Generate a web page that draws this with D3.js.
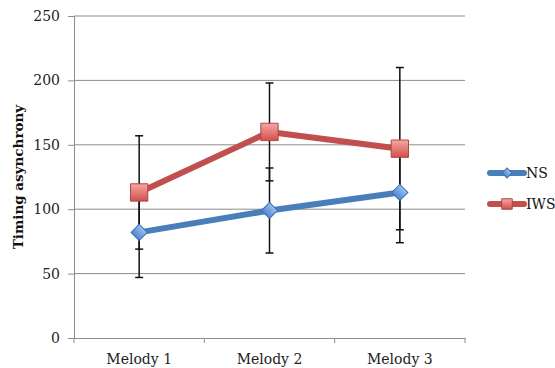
<html>
<head>
<script src="https://d3js.org/d3.v7.min.js"></script>
</head>
<body style="margin:0;background:#fff">
<script>
var melodies = ["Melody 1", "Melody 2", "Melody 3"];
var nsValues = [82, 99, 113];
var nsErrors = [35, 33, 39];
var iwsValues = [113, 160, 147];
var iwsErrors = [44, 38, 63];
var yTicks = [0, 50, 100, 150, 200, 250];

var svgWidth = 555, svgHeight = 368;
var svg = d3.select("body").append("svg")
	.attr("width", svgWidth)
	.attr("height", svgHeight);

var plotLeft = 74, plotRight = 465, plotTop = 16, plotBottom = 338;
var font = "'DejaVu Serif', serif";

var x = d3.scaleBand().domain(melodies).range([plotLeft, plotRight]);
var y = d3.scaleLinear().domain([0, 250]).range([plotBottom, plotTop]);

// gridlines
svg.append("g").selectAll("line").data(yTicks.slice(1)).enter().append("line")
	.attr("x1", plotLeft).attr("x2", plotRight)
	.attr("y1", function(d) { return y(d); })
	.attr("y2", function(d) { return y(d); })
	.style("stroke", "#8c8c8c").style("stroke-width", 1);

// axes
var yAxis = svg.append("g").attr("transform", "translate(" + plotLeft + ",0)")
	.call(d3.axisLeft(y).tickValues(yTicks).tickSize(6).tickPadding(8));
var xAxis = svg.append("g").attr("transform", "translate(0," + plotBottom + ")")
	.call(d3.axisBottom(x).tickSize(0).tickPadding(16));
// x ticks between categories
svg.append("g").selectAll("line").data([0, 1, 2, 3]).enter().append("line")
	.attr("x1", function(d) { return plotLeft + d * x.step(); })
	.attr("x2", function(d) { return plotLeft + d * x.step(); })
	.attr("y1", plotBottom).attr("y2", plotBottom + 5)
	.style("stroke", "#8c8c8c");

[yAxis, xAxis].forEach(function(a) {
	a.select(".domain").style("stroke", "#8c8c8c");
	a.selectAll(".tick line").style("stroke", "#8c8c8c");
	a.selectAll("text").style("font-family", font).style("font-size", "14px").style("fill", "#222");
});

svg.append("text")
	.attr("transform", "translate(23," + ((plotTop + plotBottom) / 2) + ") rotate(-90)")
	.attr("text-anchor", "middle")
	.style("font-family", font).style("font-size", "13.5px").style("font-weight", "bold")
	.style("fill", "#111")
	.text("Timing asynchrony");

var defs = svg.append("defs");
function grad(id, c1, c2) {
	var g = defs.append("linearGradient").attr("id", id)
		.attr("x1", 0).attr("y1", 0).attr("x2", 0).attr("y2", 1);
	g.append("stop").attr("offset", "0%").attr("stop-color", c1);
	g.append("stop").attr("offset", "100%").attr("stop-color", c2);
}
grad("gBlue", "#9cc0f0", "#4f86d4");
grad("gRed", "#f6a6a4", "#d2504c");

// diamond = square turned 45 degrees
var series = [
	{ name: "NS", values: nsValues, errors: nsErrors, color: "#4a7ebb", fill: "url(#gBlue)", stroke: "#3f6fb0", rot: 45, size: 130, legendSize: 50 },
	{ name: "IWS", values: iwsValues, errors: iwsErrors, color: "#c0504d", fill: "url(#gRed)", stroke: "#b04543", rot: 0, size: 300, legendSize: 110 }
];

var line = d3.line()
	.x(function(d, i) { return x(melodies[i]) + x.bandwidth() / 2; })
	.y(function(d) { return y(d); });

series.forEach(function(s) {
	svg.append("path").datum(s.values)
		.attr("d", line)
		.style("fill", "none")
		.style("stroke", s.color)
		.style("stroke-width", 6)
		.style("stroke-linejoin", "round");
});

// error bars
series.forEach(function(s) {
	var g = svg.append("g");
	s.values.forEach(function(v, i) {
		var cx = x(melodies[i]) + x.bandwidth() / 2;
		var lo = y(v - s.errors[i]), hi = y(v + s.errors[i]);
		g.append("line").attr("x1", cx).attr("x2", cx).attr("y1", lo).attr("y2", hi)
			.style("stroke", "#111").style("stroke-width", 1.5);
		[lo, hi].forEach(function(yy) {
			g.append("line").attr("x1", cx - 4).attr("x2", cx + 4).attr("y1", yy).attr("y2", yy)
				.style("stroke", "#111").style("stroke-width", 1.5);
		});
	});
});

// markers
series.forEach(function(s) {
	svg.append("g").selectAll("path").data(s.values).enter().append("path")
		.attr("d", d3.symbol().type(d3.symbolSquare).size(s.size))
		.attr("transform", function(d, i) {
			return "translate(" + (x(melodies[i]) + x.bandwidth() / 2) + "," + y(d) + ") rotate(" + s.rot + ")";
		})
		.style("fill", s.fill)
		.style("stroke", s.stroke)
		.style("stroke-width", 1);
});

// legend
var legend = svg.append("g");
series.forEach(function(s, i) {
	var ly = 173 + i * 31;
	legend.append("line").attr("x1", 490).attr("x2", 524).attr("y1", ly).attr("y2", ly)
		.style("stroke", s.color).style("stroke-width", 6).style("stroke-linecap", "round");
	legend.append("path")
		.attr("d", d3.symbol().type(d3.symbolSquare).size(s.legendSize))
		.attr("transform", "translate(507," + ly + ") rotate(" + s.rot + ")")
		.style("fill", s.fill).style("stroke", s.stroke);
	legend.append("text").attr("x", 526).attr("y", ly + 5)
		.style("font-family", font).style("font-size", "14px").style("fill", "#111")
		.text(s.name);
});
</script>
</body>
</html>
